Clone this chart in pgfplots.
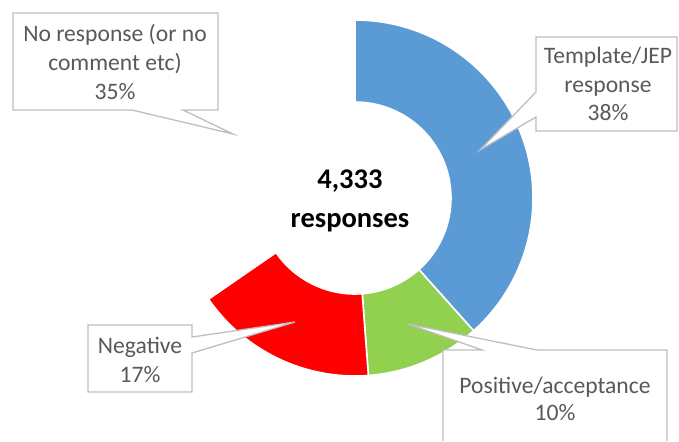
\documentclass[border=0pt]{standalone}
\usepackage{pgfplots}
\usepackage{pgfplotstable}
\pgfplotsset{compat=1.18}
\usepackage{fontspec}
\setmainfont{Carlito}
\definecolor{tplblue}{HTML}{5B9BD5}
\definecolor{posgreen}{HTML}{92D050}
\definecolor{negred}{HTML}{FF0000}
\definecolor{lblgray}{HTML}{595959}
\definecolor{boxgray}{HTML}{BFBFBF}

% responses by category (total 4,333)
\pgfplotstableread{
label value color
Template 1664 tplblue
Positive 451 posgreen
Negative 719 negred
None 1499 white
}\datatable

\begin{document}
\begin{tikzpicture}
\begin{axis}[
  x=1pt, y=1pt, y dir=reverse,
  xmin=0, xmax=679, ymin=0, ymax=441,
  hide axis, clip=false,
]
\addplot[draw=none] coordinates {(0,0) (679,441)};
\pgfplotsextra{
  \pgfplotstablegetrowsof{\datatable}
  \pgfmathtruncatemacro\nrows{\pgfplotsretval-1}
  \gdef\cum{0}
  \foreach \i in {0,...,\nrows}{
    \pgfplotstablegetelem{\i}{value}\of\datatable \let\v\pgfplotsretval
    \pgfplotstablegetelem{\i}{color}\of\datatable \let\segcol\pgfplotsretval
    \pgfmathsetmacro\aone{90-(360/4333)*\cum}
    \pgfmathsetmacro\atwo{90-(360/4333)*(\cum+\v)}
    \fill[fill=\segcol, draw=white, line width=1.6pt]
      ([shift={(\aone:178pt)}]axis cs:355,198)
      arc[start angle=\aone, end angle=\atwo, radius=178pt]
      -- ([shift={(\atwo:96pt)}]axis cs:355,198)
      arc[start angle=\atwo, end angle=\aone, radius=96pt] -- cycle;
    \pgfmathsetmacro\newcum{\cum+\v}
    \xdef\cum{\newcum}
  }
}
% callouts
\filldraw[fill=white, draw=boxgray, line width=1.3pt]
  (axis cs:13,13) -- (axis cs:218,13) -- (axis cs:218,110) -- (axis cs:183,110)
  -- (axis cs:233,134) -- (axis cs:132,110) -- (axis cs:13,110) -- cycle;
\filldraw[fill=white, draw=boxgray, line width=1.3pt]
  (axis cs:536,37) -- (axis cs:677,37) -- (axis cs:677,131) -- (axis cs:536,131)
  -- (axis cs:536,117) -- (axis cs:480,150) -- (axis cs:536,92) -- cycle;
\filldraw[fill=white, draw=boxgray, line width=1.3pt]
  (axis cs:88,325) -- (axis cs:192,325) -- (axis cs:192,337) -- (axis cs:295,322)
  -- (axis cs:192,353) -- (axis cs:192,392) -- (axis cs:88,392) -- cycle;
\fill[white]
  (axis cs:443,441) -- (axis cs:443,350) -- (axis cs:482,350) -- (axis cs:408,324)
  -- (axis cs:537,350) -- (axis cs:667,350) -- (axis cs:667,441) -- cycle;
\draw[boxgray, line width=1.3pt]
  (axis cs:443,441) -- (axis cs:443,350) -- (axis cs:482,350) -- (axis cs:408,324)
  -- (axis cs:537,350) -- (axis cs:667,350) -- (axis cs:667,441);
% labels
\begin{scope}[every node/.style={text=lblgray, font=\fontsize{23.6}{28}\selectfont, anchor=base, inner sep=0pt}]
\node at (axis cs:115,41) {No response (or no};
\node at (axis cs:115,70) {comment etc)};
\node at (axis cs:115,99) {35\%};
\node at (axis cs:608,63) {Template/JEP};
\node at (axis cs:608,92) {response};
\node at (axis cs:608,120) {38\%};
\node at (axis cs:140,353) {Negative};
\node at (axis cs:140,382) {17\%};
\node at (axis cs:555,393) {Positive/acceptance};
\node at (axis cs:555,420) {10\%};
\end{scope}
\node[anchor=base, inner sep=0pt, font=\fontsize{28.5}{34}\selectfont\bfseries] at (axis cs:350,188) {4,333};
\node[anchor=base, inner sep=0pt, font=\fontsize{28.5}{34}\selectfont\bfseries] at (axis cs:350,227) {responses};
\end{axis}
\end{tikzpicture}
\end{document}
